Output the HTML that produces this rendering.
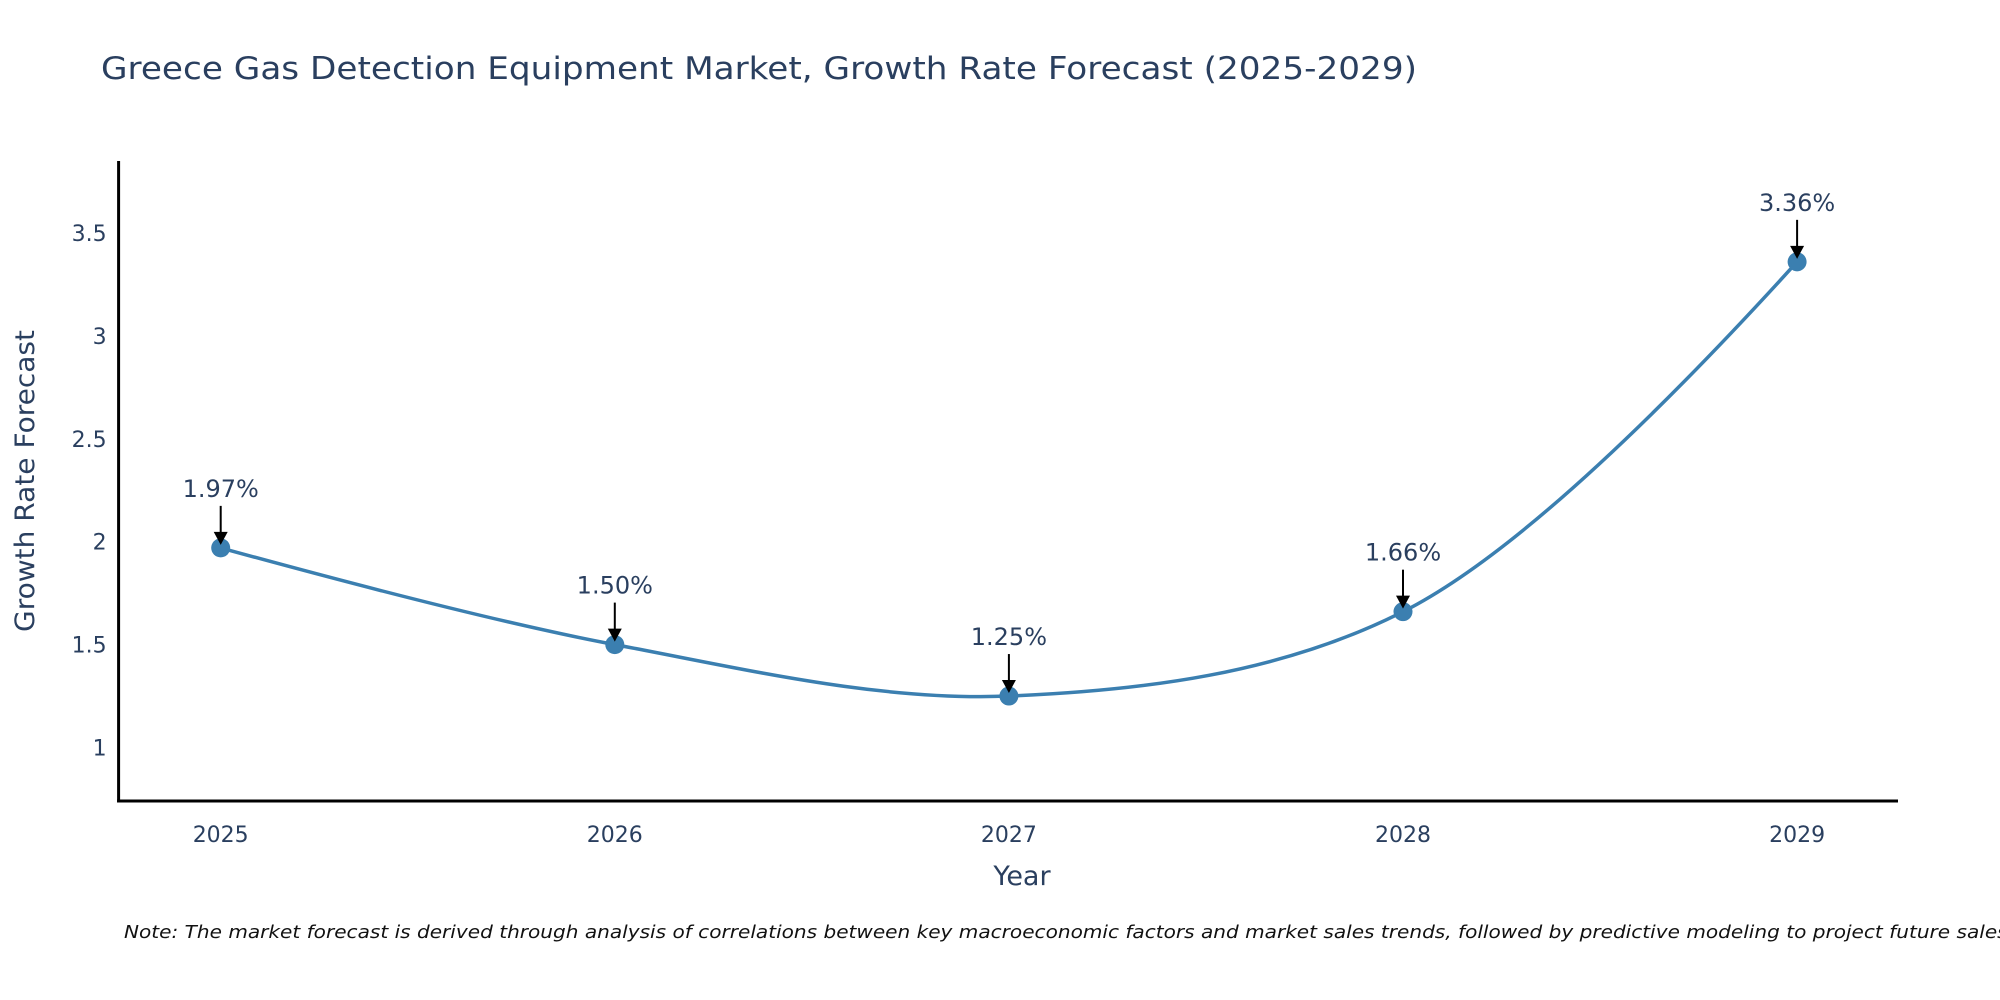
<!DOCTYPE html>
<html><head><meta charset="utf-8"><style>
html,body{margin:0;padding:0;background:#fff;}
svg{display:block;font-family:"DejaVu Sans","Liberation Sans",sans-serif;}
</style></head><body>
<svg id="chart" width="2000" height="1000" viewBox="0 0 2000 1000">
<text x="101" y="79" font-size="31" fill="#2a3f5f" textLength="1316" lengthAdjust="spacingAndGlyphs">Greece Gas Detection Equipment Market, Growth Rate Forecast (2025-2029)</text>
<g id="axes"></g>
<g id="series"></g>
<text x="1022" y="885" font-size="27" fill="#2a3f5f" text-anchor="middle">Year</text>
<text transform="translate(34,481) rotate(-90)" font-size="27" fill="#2a3f5f" text-anchor="middle" textLength="302" lengthAdjust="spacingAndGlyphs">Growth Rate Forecast</text>
<text x="124" y="938" font-size="18" font-style="italic" fill="#111" textLength="1890" lengthAdjust="spacingAndGlyphs">Note: The market forecast is derived through analysis of correlations between key macroeconomic factors and market sales trends, followed by predictive modeling to project future sales.</text>
</svg>
<script>
const years = ["2025","2026","2027","2028","2029"];
const values = [1.97, 1.50, 1.25, 1.66, 3.36];
const labels = ["1.97%","1.50%","1.25%","1.66%","3.36%"];
const yTicks = [1, 1.5, 2, 2.5, 3, 3.5];
const yTickLabels = ["1","1.5","2","2.5","3","3.5"];

const NS="http://www.w3.org/2000/svg";
const L=118.6,R=1898,T=161,B=801;
const yMin=0.74,yMax=3.85;
const xPos=i=>220.7+i*394.1;
const yPos=v=>B-(v-yMin)/(yMax-yMin)*(B-T);
function mk(tag,attrs,parent,txt){const e=document.createElementNS(NS,tag);for(const k in attrs)e.setAttribute(k,attrs[k]);if(txt!==undefined)e.textContent=txt;parent.appendChild(e);return e;}
const axes=document.getElementById('axes'),ser=document.getElementById('series');
let e;
e=mk('line',{x1:L,y1:T,x2:L,y2:B+1.5,stroke:'#000','stroke-width':3},axes);


e=mk('line',{x1:L-1.5,y1:B,x2:R,y2:B,stroke:'#000','stroke-width':3},axes);


yTicks.forEach((v,i)=>{
  const t=mk('text',{x:L-12,y:yPos(v)+8,'font-size':22,fill:'#2a3f5f','text-anchor':'end'},axes,yTickLabels[i]);
  
  
});
years.forEach((y,i)=>{
  const t=mk('text',{x:xPos(i),y:B+41,'font-size':22,fill:'#2a3f5f','text-anchor':'middle'},axes,y);
  
  
});
// plotly-style spline
const pts=values.map((v,i)=>[xPos(i),yPos(v)]);
function tangent(p0,p1,p2,sm){
  const d1x=p0[0]-p1[0],d1y=p0[1]-p1[1],d2x=p2[0]-p1[0],d2y=p2[1]-p1[1];
  const d1a=Math.pow(d1x*d1x+d1y*d1y,0.25),d2a=Math.pow(d2x*d2x+d2y*d2y,0.25);
  const nx=(d2a*d2a*d1x-d1a*d1a*d2x)*sm,ny=(d2a*d2a*d1y-d1a*d1a*d2y)*sm;
  const den1=3*d2a*(d1a+d2a),den2=3*d1a*(d1a+d2a);
  return [[p1[0]+nx/den1,p1[1]+ny/den1],[p1[0]-nx/den2,p1[1]-ny/den2]];
}
const tg=[];
for(let i=1;i<pts.length-1;i++)tg.push(tangent(pts[i-1],pts[i],pts[i+1],1));
let d=`M${pts[0]} Q${tg[0][0]} ${pts[1]}`;
for(let i=2;i<pts.length-1;i++)d+=` C${tg[i-2][1]} ${tg[i-1][0]} ${pts[i]}`;
d+=` Q${tg[tg.length-1][1]} ${pts[pts.length-1]}`;
e=mk('path',{d:d,fill:'none',stroke:'#3b7fb0','stroke-width':3.5},ser);


pts.forEach((p,i)=>{
  const c=mk('circle',{cx:p[0],cy:p[1],r:9.5,fill:'#3b7fb0'},ser);
  
  
  const a=mk('line',{x1:p[0],y1:p[1]-42,x2:p[0],y2:p[1]-14,stroke:'#000','stroke-width':2},ser);
  
  
  const h=mk('polygon',{points:`${p[0]-7},${p[1]-16} ${p[0]+7},${p[1]-16} ${p[0]},${p[1]-3}`,fill:'#000'},ser);
  
  
  const t=mk('text',{x:p[0],y:p[1]-51,'font-size':24,fill:'#2a3f5f','text-anchor':'middle'},ser,labels[i]);
  
  
});
</script>
</body></html>
